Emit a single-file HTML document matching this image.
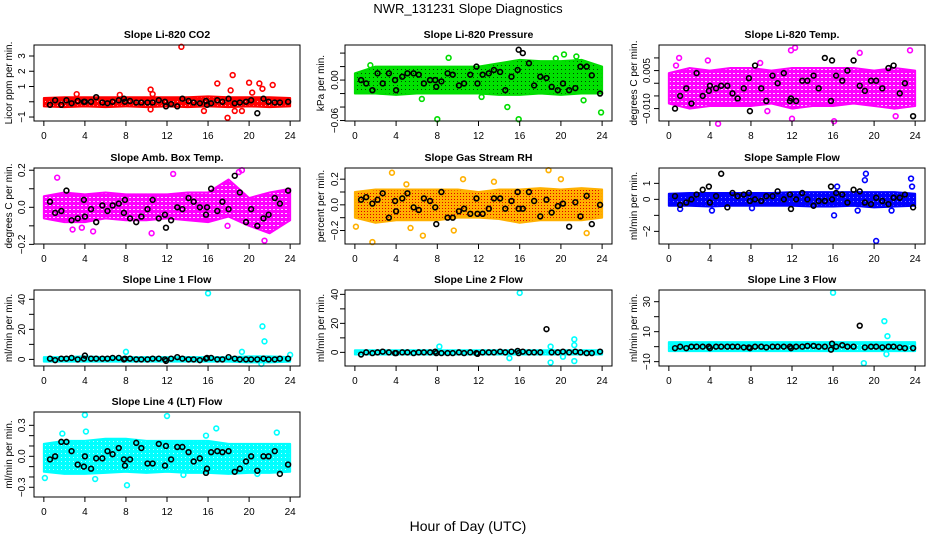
<!DOCTYPE html>
<html><head><meta charset="utf-8"><style>
html,body{margin:0;padding:0;background:#fff;}
svg{display:block;font-family:"Liberation Sans",sans-serif;}
</style></head><body>
<svg id="chart" width="936" height="540" viewBox="0 0 936 540">
<defs>
<pattern id="p-red" width="4" height="4" patternUnits="userSpaceOnUse"><rect width="4" height="4" fill="#ff0000"/><rect x="1" y="1" width="1" height="1" fill="#ffaaaa"/></pattern>
<pattern id="p-green" width="4" height="4" patternUnits="userSpaceOnUse"><rect width="4" height="4" fill="#00e000"/><rect x="1" y="1" width="1" height="1" fill="#004400"/></pattern>
<pattern id="p-magenta" width="4" height="4" patternUnits="userSpaceOnUse"><rect width="4" height="4" fill="#ff00ff"/><rect x="1" y="1" width="2" height="1" fill="#ffd0ff"/></pattern>
<pattern id="p-orange" width="3" height="3" patternUnits="userSpaceOnUse"><rect width="3" height="3" fill="#ffb000"/><rect x="1" y="1" width="1" height="1" fill="#e00000"/></pattern>
<pattern id="p-blue" width="4" height="4" patternUnits="userSpaceOnUse"><rect width="4" height="4" fill="#0000ff"/><rect x="1" y="1" width="1" height="1" fill="#8080ff"/></pattern>
<pattern id="p-cyan" width="4" height="4" patternUnits="userSpaceOnUse"><rect width="4" height="4" fill="#00ffff"/><rect x="1" y="1" width="1" height="1" fill="#b0ffff"/></pattern>
</defs>
<text x="468" y="13" text-anchor="middle" font-size="13">NWR_131231  Slope Diagnostics</text>
<text x="468" y="531" text-anchor="middle" font-size="14">Hour of Day (UTC)</text>
</svg>
<script>
// shared x positions (hours) of black (hourly-average) points
const blackX = [0.6,1.1,1.7,2.2,2.7,3.3,3.9,4.0,4.6,5.1,5.7,6.2,6.7,7.3,7.8,7.9,8.4,9.0,9.5,10.1,10.6,11.2,11.8,11.9,12.4,13.0,13.5,14.1,14.6,15.2,15.8,15.9,16.3,16.9,17.4,18.0,18.6,19.1,19.7,20.2,20.8,21.4,21.9,22.5,23.0,23.8];
const bandX = [0,2,4,6,8,10,12,14,16,18,20,22,24];
const xTicks = [0,4,8,12,16,20,24];

// panel data
const co2Black = [-0.2,0.1,-0.2,0.1,-0.1,0.05,0.0,0.0,0.0,0.3,-0.05,-0.1,0.0,0.1,0.2,0.0,0.05,-0.05,-0.05,-0.05,-0.05,0.1,0.0,-0.3,-0.15,-0.3,0.2,0.05,-0.05,-0.1,0.05,-0.2,-0.1,0.1,0.0,0.2,-0.1,-0.05,0.0,0.1,-0.75,0.2,0.0,-0.05,-0.05,0.0];
const co2Lo = [-0.3,-0.35,-0.3,-0.35,-0.3,-0.35,-0.3,-0.35,-0.3,-0.35,-0.3,-0.35,-0.3];
const co2Hi = [0.25,0.3,0.3,0.3,0.3,0.3,0.3,0.3,0.35,0.3,0.3,0.3,0.25];
const co2OutX = [13.4,10.4,10.6,3.2,7.4,15.6,16.9,17.9,18.2,18.4,18.6,19.3,20.0,20.3,21.0,21.3,22.3,10.4];
const co2OutY = [3.6,0.8,0.5,0.5,0.45,-0.6,1.2,-1.05,0.75,1.75,-0.6,-0.6,1.25,0.6,1.2,0.85,1.1,-0.5];

const presBlack = [0.0,-0.005,-0.015,0.01,-0.005,0.01,0.0,-0.015,0.005,0.01,0.01,0.008,-0.005,0.0,0.0,-0.01,-0.002,0.01,0.008,-0.008,-0.005,0.008,0.02,-0.005,0.008,0.01,0.015,0.012,-0.015,0.005,0.015,0.045,0.04,0.025,-0.008,0.005,0.003,-0.01,-0.015,-0.005,-0.015,-0.012,0.02,0.02,0.007,-0.02];
const presLo = [-0.02,-0.02,-0.022,-0.02,-0.02,-0.02,-0.02,-0.022,-0.022,-0.02,-0.022,-0.02,-0.02];
const presHi = [0.01,0.02,0.02,0.02,0.02,0.02,0.02,0.025,0.03,0.028,0.028,0.03,0.02];
const presOutX = [8,15.9,14.8,23.9,9.1,19.5,20.3,21.5,6.5,12.3,22.2,1.5];
const presOutY = [-0.058,-0.058,-0.04,-0.048,0.033,0.032,0.038,0.035,-0.028,-0.025,-0.03,0.022];

const tempBlack = [-0.010,-0.005,-0.002,-0.008,0.004,-0.005,-0.003,-0.001,-0.002,-0.001,-0.001,-0.004,-0.006,-0.002,0.002,-0.011,0.007,-0.002,-0.007,0.003,0.0,0.004,-0.007,-0.006,-0.007,0.001,0.001,0.003,-0.002,0.010,-0.007,0.009,0.003,0.001,0.005,0.009,-0.001,-0.003,0.001,0.001,-0.002,0.006,0.007,-0.004,0.0,-0.013];
const tempLo = [-0.008,-0.01,-0.009,-0.009,-0.009,-0.008,-0.01,-0.009,-0.009,-0.008,-0.009,-0.01,-0.009];
const tempHi = [0.004,0.006,0.005,0.006,0.006,0.005,0.006,0.006,0.006,0.006,0.005,0.006,0.005];
const tempOutX = [4.8,12.0,16.1,22.1,12.3,11.9,1.0,3.8,23.5,18.6,0.7,8.9,9.6];
const tempOutY = [-0.016,-0.014,-0.015,-0.013,0.014,0.013,0.010,0.009,0.013,0.012,0.007,0.008,-0.011];

const ambBlack = [0.03,-0.03,-0.02,0.09,-0.07,-0.06,0.04,-0.05,-0.01,-0.08,0.01,-0.02,0.01,0.02,-0.03,0.04,-0.06,-0.08,-0.05,-0.01,0.04,-0.06,-0.04,-0.11,-0.07,0.0,-0.01,0.05,0.03,0.0,-0.04,0.0,0.1,-0.02,0.03,-0.01,0.17,0.08,-0.08,-0.01,-0.1,-0.06,-0.04,0.05,0.02,0.09];
const ambLo = [-0.06,-0.08,-0.08,-0.06,-0.07,-0.07,-0.06,-0.07,-0.08,-0.05,-0.1,-0.14,-0.07];
const ambHi = [0.06,0.08,0.07,0.08,0.07,0.07,0.07,0.08,0.08,0.15,0.05,0.08,0.1];
const ambOutX = [1.3,12.6,19.3,19.0,10.5,4.8,2.8,21.5,3.7,17.9];
const ambOutY = [0.16,0.18,0.2,0.19,-0.14,-0.13,-0.12,-0.18,-0.11,-0.1];

const rhBlack = [0.04,0.06,0.01,0.04,0.09,-0.1,0.03,-0.05,0.05,0.09,-0.02,-0.04,0.05,0.03,-0.02,-0.15,0.10,-0.1,-0.1,-0.05,-0.03,-0.07,0.05,-0.07,-0.07,-0.03,0.05,0.05,-0.03,0.03,0.10,-0.03,-0.03,0.10,0.03,-0.09,0.04,-0.06,-0.01,0.01,-0.17,0.02,-0.09,0.07,-0.15,0.0];
const rhLo = [-0.1,-0.14,-0.12,-0.12,-0.12,-0.1,-0.1,-0.11,-0.14,-0.12,-0.12,-0.12,-0.1];
const rhHi = [0.1,0.12,0.12,0.12,0.12,0.12,0.1,0.12,0.12,0.13,0.12,0.13,0.12];
const rhOutX = [3.6,10.5,18.8,0.1,1.7,6.6,9.6,13.5,20.0,5.0,22.5,5.4];
const rhOutY = [0.25,0.2,0.27,-0.17,-0.29,-0.24,-0.2,0.18,0.2,0.16,-0.22,-0.18];

const sfBlack = [0.2,-0.35,-0.2,0.0,0.3,0.6,0.8,-0.2,0.2,1.6,-0.5,0.4,0.2,0.3,0.4,-0.1,0.0,-0.1,0.2,0.2,0.5,0.0,0.3,-0.6,0.0,0.4,0.0,-0.4,-0.1,-0.1,0.8,0.0,0.4,0.3,-0.2,0.6,0.5,-0.2,-0.3,0.1,-0.1,-0.3,0.1,0.1,0.3,-0.5];
const sfLo = [-0.4,-0.4,-0.45,-0.4,-0.4,-0.4,-0.4,-0.45,-0.45,-0.4,-0.5,-0.45,-0.4];
const sfHi = [0.35,0.4,0.4,0.4,0.4,0.4,0.45,0.45,0.45,0.45,0.45,0.45,0.35];
const sfOutX = [19.2,19.1,23.6,20.2,16.1,4.2,8.1,18.4,21.7,23.7,1.1,16.4];
const sfOutY = [1.6,1.2,1.3,-2.6,-1.0,-0.7,-0.55,-0.7,-0.7,0.8,-0.6,0.8];

const l1Black = [0.5,-0.5,0.5,0.5,1,0,0.5,2.5,0.5,0.5,0.5,0.5,1,1,0,0.5,0.5,0,0,0,0.5,0.5,0,-1,0.5,1.5,0.5,0,0,-0.5,0.5,1,1,0,0,1.5,0.5,0,0,0,0,0.5,0,0,0.5,0.5];
const l1Lo = [-1.5,-1.5,-1.5,-1.5,-1.5,-1.5,-1.5,-1.5,-1.5,-1.5,-2,-2,-1.5];
const l1Hi = [1.5,1.5,2,1.5,1.5,1.5,1.5,1.5,1.5,1.5,2,2,1.5];
const l1OutX = [16,21.3,21.5,8,19.3,24,21.2];
const l1OutY = [44,22,12,5,5,3,-3];

const l2Black = [-1.5,0,-0.5,0,0.5,0,-0.5,-0.5,0,0,-0.5,0,0,0,0.5,-0.5,-0.5,-0.5,-0.5,0,-0.5,0,-0.5,-1,0,0,0,0.5,0,0.5,1,-0.5,0.5,0,0,0,16,0,0,0.5,0,0.5,0,-0.5,-0.5,0.5];
const l2Lo = [-1.5,-1.5,-1.5,-1.5,-1.5,-1.5,-1.5,-1.5,-1.5,-1.5,-1.5,-1.5,-1.5];
const l2Hi = [1.5,1.5,1.5,1.5,1.5,1.5,1.5,1.5,1.5,1.5,1.5,1.5,1.5];
const l2OutX = [16,19,19,21.3,21.3,21.3,15,8.2,20.2];
const l2OutY = [41,4,-7,9,5,-6,-4,4,-3];

const l3Black = [-1,0,-1,0,0,0,0,-1,0,0,0,0,0,-0.5,-0.5,-1,0,0,-0.5,0,0,0,0,-1,0,0,0.5,0.5,0,0,-2,2,0,1,0,0,14,-0.5,0,0,-0.5,0,0,-0.5,-1,-1];
const l3Lo = [-3,-3,-3,-3,-3,-3,-3,-3,-3,-3,-3,-3,-3];
const l3Hi = [3,3,3,3,3,3,3,3,3,3,3,3,3];
const l3OutX = [16,21,21.3,19,21.2];
const l3OutY = [36,17,7,-11,-5];

const l4Black = [-0.03,0.0,0.14,0.14,0.05,-0.08,-0.10,0.00,-0.12,-0.02,-0.02,0.05,0.02,0.08,-0.03,-0.09,-0.03,0.13,0.08,-0.07,-0.07,0.12,-0.09,0.10,-0.03,0.09,0.09,0.04,-0.05,-0.02,-0.16,-0.12,0.04,0.05,0.04,0.05,-0.15,-0.12,-0.05,0.0,-0.14,0.0,0.0,0.05,-0.17,-0.08];
const l4Lo = [-0.15,-0.17,-0.17,-0.16,-0.15,-0.16,-0.15,-0.16,-0.16,-0.17,-0.16,-0.16,-0.15];
const l4Hi = [0.12,0.15,0.15,0.17,0.17,0.15,0.15,0.15,0.15,0.12,0.12,0.12,0.12];
const l4OutX = [4.0,12.0,16.8,0.1,5.0,8.1,13.6,4.1,1.8,22.7,15.8,20.8];
const l4OutY = [0.40,0.39,0.27,-0.21,-0.22,-0.28,-0.18,0.24,0.22,0.23,0.20,-0.17];

const SVGNS = "http://www.w3.org/2000/svg";
const svg = document.getElementById('chart');
function mk(tag, attrs, parent){const e=document.createElementNS(SVGNS,tag);for(const k in attrs)e.setAttribute(k,attrs[k]);(parent||svg).appendChild(e);return e;}

const cols = [{l:34,r:300,ylab:9,tlab:21},{l:345,r:612,ylab:321,tlab:334},{l:659,r:925,ylab:634,tlab:646}];
const rows = [{t:45,b:121},{t:168,b:244},{t:290,b:366},{t:412,b:497}];

const panels = [
 {name:'co2',title:'Slope Li-820 CO2',ylab:'Licor ppm per min.',col:0,row:0,ylim:[-1.26,3.72],ticks:[-1,0,1,2,3],labels:[-1,1,2,3],fmt:v=>String(v),pat:'p-red',color:'#ff0000',black:co2Black,lo:co2Lo,hi:co2Hi,ox:co2OutX,oy:co2OutY},
 {name:'pressure',title:'Slope Li-820 Pressure',ylab:'kPa per min.',col:1,row:0,ylim:[-0.0607,0.052],ticks:[-0.06,-0.04,-0.02,0,0.02,0.04],labels:[-0.06,0],fmt:v=>v.toFixed(2),pat:'p-green',color:'#00dd00',black:presBlack,lo:presLo,hi:presHi,ox:presOutX,oy:presOutY},
 {name:'temp',title:'Slope Li-820 Temp.',ylab:'degrees C per min.',col:2,row:0,ylim:[-0.0149,0.0151],ticks:[-0.01,-0.005,0,0.005,0.01],labels:[-0.01,0.005],fmt:v=>v.toFixed(3),pat:'p-magenta',color:'#ff00ff',black:tempBlack,lo:tempLo,hi:tempHi,ox:tempOutX,oy:tempOutY},
 {name:'amb-box-temp',title:'Slope Amb. Box Temp.',ylab:'degrees C per min.',col:0,row:1,ylim:[-0.198,0.212],ticks:[-0.2,-0.1,0,0.1,0.2],labels:[-0.2,0,0.2],fmt:v=>v.toFixed(1),pat:'p-magenta',color:'#ff00ff',black:ambBlack,lo:ambLo,hi:ambHi,ox:ambOutX,oy:ambOutY},
 {name:'gas-stream-rh',title:'Slope Gas Stream RH',ylab:'percent per min.',col:1,row:1,ylim:[-0.305,0.287],ticks:[-0.2,-0.1,0,0.1,0.2],labels:[-0.2,0,0.2],fmt:v=>v.toFixed(1),pat:'p-orange',color:'#ffb000',black:rhBlack,lo:rhLo,hi:rhHi,ox:rhOutX,oy:rhOutY},
 {name:'sample-flow',title:'Slope Sample Flow',ylab:'ml/min per min.',col:2,row:1,ylim:[-2.79,1.96],ticks:[-2,-1,0,1],labels:[-2,0,1],fmt:v=>String(v),pat:'p-blue',color:'#0000ff',black:sfBlack,lo:sfLo,hi:sfHi,ox:sfOutX,oy:sfOutY},
 {name:'line1-flow',title:'Slope Line 1 Flow',ylab:'ml/min per min.',col:0,row:2,ylim:[-4.4,46.2],ticks:[0,10,20,30,40],labels:[0,20,40],fmt:v=>String(v),pat:'p-cyan',color:'#00ffff',black:l1Black,lo:l1Lo,hi:l1Hi,ox:l1OutX,oy:l1OutY},
 {name:'line2-flow',title:'Slope Line 2 Flow',ylab:'ml/min per min.',col:1,row:2,ylim:[-9.4,43],ticks:[0,10,20,30,40],labels:[0,20,40],fmt:v=>String(v),pat:'p-cyan',color:'#00ffff',black:l2Black,lo:l2Lo,hi:l2Hi,ox:l2OutX,oy:l2OutY},
 {name:'line3-flow',title:'Slope Line 3 Flow',ylab:'ml/min per min.',col:2,row:2,ylim:[-12.9,37.8],ticks:[-10,0,10,20,30],labels:[-10,10,30],fmt:v=>String(v),pat:'p-cyan',color:'#00ffff',black:l3Black,lo:l3Lo,hi:l3Hi,ox:l3OutX,oy:l3OutY},
 {name:'line4-flow',title:'Slope Line 4 (LT) Flow',ylab:'ml/min per min.',col:0,row:3,ylim:[-0.394,0.429],ticks:[-0.3,-0.2,-0.1,0,0.1,0.2,0.3],labels:[-0.3,0,0.3],fmt:v=>v.toFixed(1),pat:'p-cyan',color:'#00ffff',black:l4Black,lo:l4Lo,hi:l4Hi,ox:l4OutX,oy:l4OutY}
];

panels.forEach(p=>{
  const c=cols[p.col], r=rows[p.row];
  const g=mk('g',{});
  
  
  const xs=v=>c.l+(v+0.96)/25.92*(c.r-c.l);
  const ys=v=>r.b-(v-p.ylim[0])/(p.ylim[1]-p.ylim[0])*(r.b-r.t);
  const t=mk('text',{x:(c.l+c.r)/2,y:r.t-7,'text-anchor':'middle','font-size':10.5,'font-weight':'bold'},g);
  t.textContent=p.title;
  
  
  const yl=mk('text',{x:0,y:0,'text-anchor':'middle','font-size':10,transform:`translate(${c.ylab+3},${(r.t+r.b)/2}) rotate(-90)`},g);
  yl.textContent=p.ylab;
  
  
  let pts=bandX.map((x,i)=>xs(x)+','+ys(p.hi[i]));
  pts=pts.concat(bandX.map((x,i)=>xs(x)+','+ys(p.lo[i])).reverse());
  const band=mk('polygon',{points:pts.join(' '),fill:`url(#${p.pat})`,stroke:p.color,'stroke-width':2,'stroke-linejoin':'round'},g);
  
  
  p.ox.forEach((x,i)=>{
    const o=mk('circle',{cx:xs(x),cy:ys(p.oy[i]),r:2.4,fill:'none',stroke:p.color,'stroke-width':1.6},g);
    
    
  });
  p.black.forEach((y,i)=>{
    const b=mk('circle',{cx:xs(blackX[i]),cy:ys(y),r:2.4,fill:'none',stroke:'#000','stroke-width':1.6},g);
    
    
  });
  const fr=mk('rect',{x:c.l,y:r.t,width:c.r-c.l,height:r.b-r.t,fill:'none',stroke:'#000','stroke-width':1},g);
  
  
  xTicks.forEach(v=>{
    mk('line',{x1:xs(v),x2:xs(v),y1:r.b,y2:r.b+5,stroke:'#000'},g);
    const tl=mk('text',{x:xs(v),y:r.b+18,'text-anchor':'middle','font-size':10},g);
    tl.textContent=v;
    
    
  });
  p.ticks.forEach(v=>{mk('line',{x1:c.l-5,x2:c.l,y1:ys(v),y2:ys(v),stroke:'#000'},g);});
  p.labels.forEach(v=>{
    const tl=mk('text',{x:0,y:0,'text-anchor':'middle','font-size':10,transform:`translate(${c.tlab+4},${ys(v)}) rotate(-90)`},g);
    tl.textContent=p.fmt(v).replace('-','\u2212');
    
    
  });
});
</script>
</body></html>
